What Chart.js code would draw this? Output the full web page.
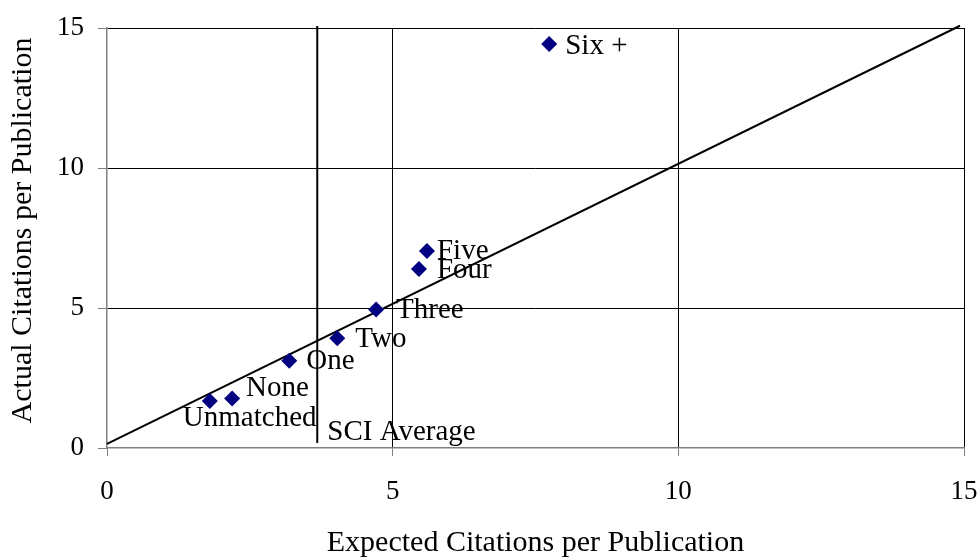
<!DOCTYPE html>
<html>
<head>
<meta charset="utf-8">
<script src="https://cdn.jsdelivr.net/npm/chart.js@4.4.0/dist/chart.umd.min.js"></script>
<style>
  html, body { margin: 0; padding: 0; background: #ffffff; }
  #wrap { width: 980px; height: 557px; }
</style>
</head>
<body>
<div id="wrap"><canvas id="chart" width="980" height="557"></canvas></div>
<script>
// Citation impact by number of matched collaborators
const categories    = ['Unmatched', 'None', 'One', 'Two', 'Three', 'Four', 'Five', 'Six +'];
const expectedCites = [1.80, 2.19, 3.19, 4.03, 4.71, 5.46, 5.60, 7.74];
const actualCites   = [1.68, 1.77, 3.12, 3.92, 4.95, 6.39, 7.04, 14.43];

// Parity trend line (actual vs expected)
const trendX = [0, 14.93];
const trendY = [0.15, 15.08];

// SCI average marker
const sciAverageLabel = 'SCI Average';
const sciAverageX = [3.68, 3.68];
const sciAverageY = [0.18, 15.07];

// Axis ticks
const axisMin = 0;
const axisMax = 15;
const axisStep = 5;

// Label nudges in pixels: [dx to text start, dy to text middle]
const labelNudge = {
  'Unmatched': [-27, 17],
  'None':      [14, -10],
  'One':       [17, 1],
  'Two':       [18, 1],
  'Three':     [20, 1],
  'Four':      [18, 1],
  'Five':      [10, 1],
  'Six +':     [16, 2]
};

const SERIF = '"Liberation Serif", "Times New Roman", Times, serif';

const pointLabels = {
  id: 'pointLabels',
  afterDatasetsDraw(chart) {
    const ctx = chart.ctx;
    ctx.save();
    ctx.font = '29px ' + SERIF;
    ctx.fillStyle = '#000000';
    ctx.textAlign = 'left';
    ctx.textBaseline = 'middle';
    const meta = chart.getDatasetMeta(0);
    meta.data.forEach((el, i) => {
      const name = categories[i];
      const n = labelNudge[name] || [12, 0];
      ctx.fillText(name, el.x + n[0], el.y + n[1]);
    });
    // SCI average caption at the foot of its marker line
    const sx = chart.scales.x.getPixelForValue(sciAverageX[0]);
    const sy = chart.scales.y.getPixelForValue(sciAverageY[0]);
    ctx.fillText(sciAverageLabel, sx + 10, sy - 11);
    ctx.restore();
  }
};

const gridColor = (c) => (c.tick && c.tick.value === 0) ? 'rgba(0,0,0,0)' : '#000000';

new Chart(document.getElementById('chart'), {
  type: 'scatter',
  data: {
    datasets: [
      {
        label: 'Groups',
        data: expectedCites.map((x, i) => ({ x: x, y: actualCites[i] })),
        pointStyle: 'rectRot',
        pointRadius: 8,
        pointHoverRadius: 8,
        backgroundColor: '#000080',
        borderColor: '#000080',
        borderWidth: 0
      },
      {
        type: 'line',
        label: 'Trend',
        data: trendX.map((x, i) => ({ x: x, y: trendY[i] })),
        borderColor: '#000000',
        borderWidth: 2,
        pointRadius: 0,
        fill: false,
        clip: false
      },
      {
        type: 'line',
        label: sciAverageLabel,
        data: sciAverageX.map((x, i) => ({ x: x, y: sciAverageY[i] })),
        borderColor: '#000000',
        borderWidth: 2,
        pointRadius: 0,
        fill: false,
        clip: false
      }
    ]
  },
  options: {
    responsive: false,
    animation: false,
    events: [],
    layout: { padding: { top: 28, right: 16, left: 0, bottom: 0 } },
    plugins: {
      legend: { display: false },
      tooltip: { enabled: false }
    },
    scales: {
      x: {
        type: 'linear',
        min: axisMin,
        max: axisMax,
        afterFit(scale) {
          scale.height = 109;
          scale.paddingLeft = 0;
          scale.paddingRight = 0;
        },
        ticks: {
          stepSize: axisStep,
          color: '#000000',
          padding: 20,
          maxRotation: 0,
          font: { family: SERIF, size: 27 }
        },
        grid: {
          color: gridColor,
          lineWidth: 1,
          tickColor: '#808080',
          tickLength: 8
        },
        border: { display: true, color: '#808080', width: 1.5 },
        title: {
          display: true,
          text: 'Expected Citations per Publication',
          color: '#000000',
          font: { family: SERIF, size: 30, lineHeight: 1 },
          padding: { top: 0, bottom: -1 }
        }
      },
      y: {
        type: 'linear',
        min: axisMin,
        max: axisMax,
        afterFit(scale) {
          scale.width = 107;
          scale.paddingTop = 0;
          scale.paddingBottom = 0;
        },
        ticks: {
          stepSize: axisStep,
          color: '#000000',
          padding: 14,
          font: { family: SERIF, size: 27 }
        },
        grid: {
          color: gridColor,
          lineWidth: 1,
          tickColor: '#808080',
          tickLength: 9
        },
        border: { display: true, color: '#808080', width: 1.5 },
        title: {
          display: true,
          text: '\u2002Actual Citations per Publication',
          color: '#000000',
          font: { family: SERIF, size: 30, lineHeight: 1 },
          padding: { top: 8, bottom: 0 }
        }
      }
    }
  },
  plugins: [pointLabels]
});
</script>
</body>
</html>
